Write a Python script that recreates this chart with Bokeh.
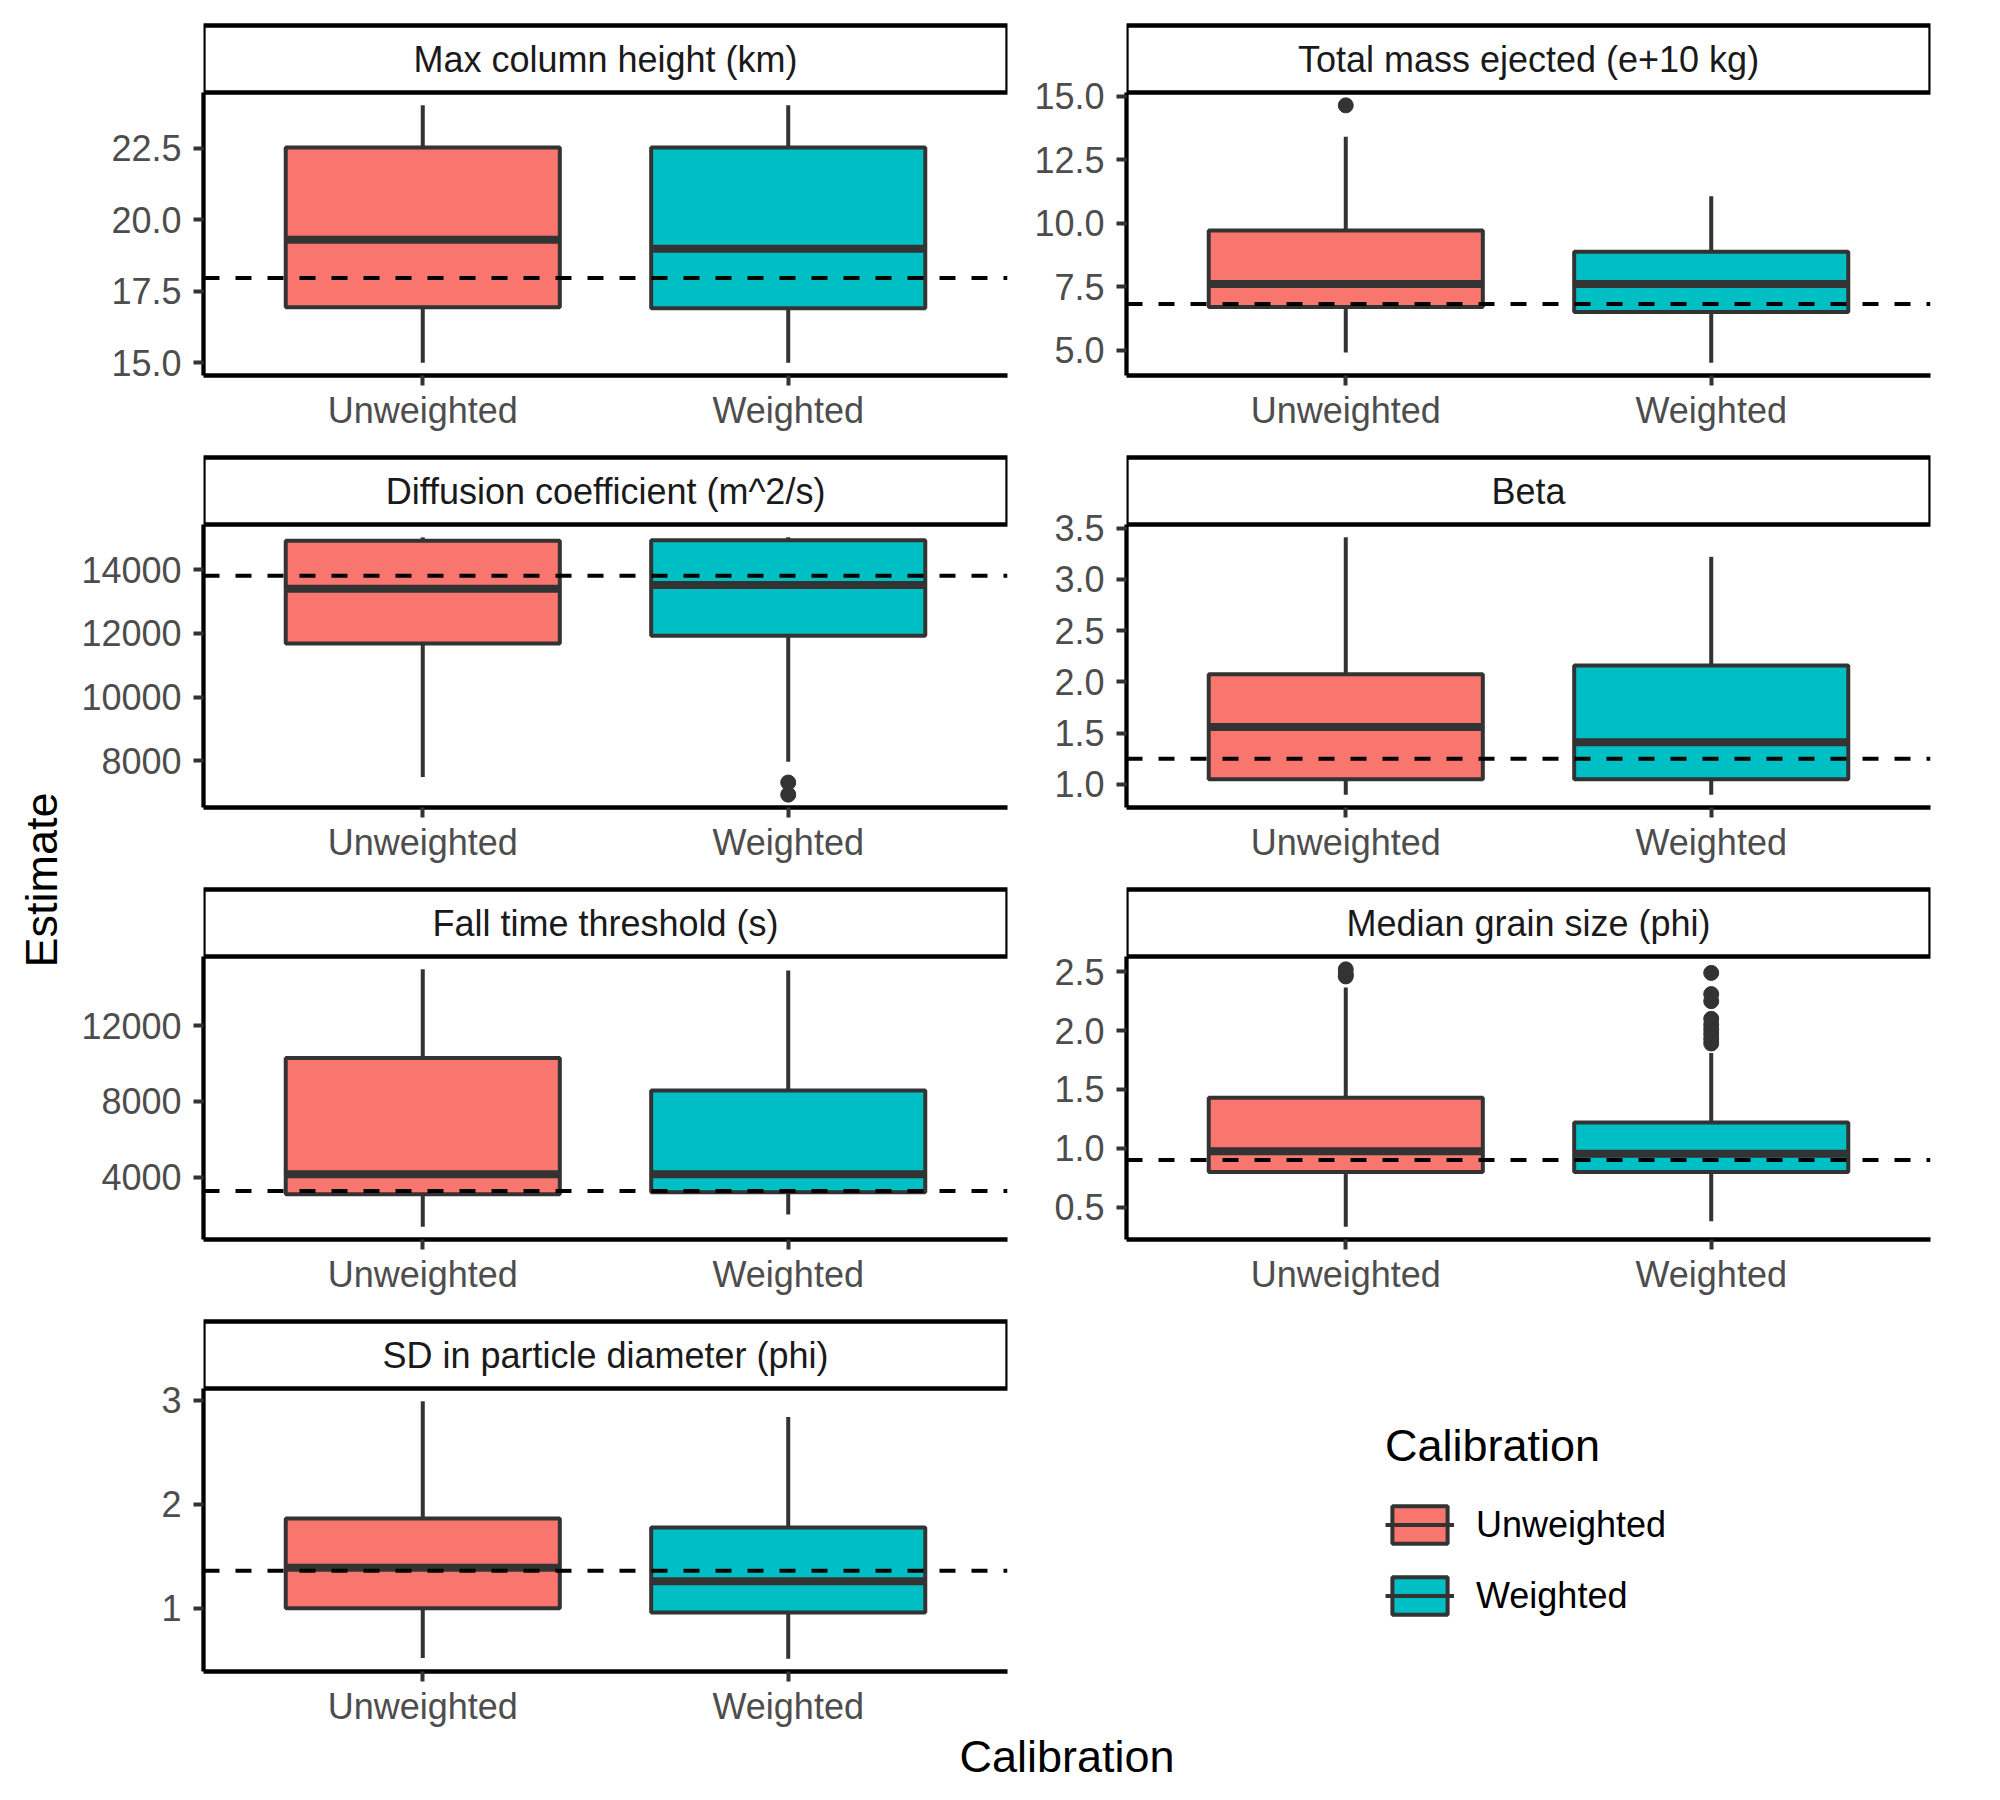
import math
from bokeh.plotting import figure
from bokeh.models import (ColumnDataSource, Range1d, FactorRange, FixedTicker,
                          Span, Legend, LegendItem, BoxAnnotation)
from bokeh.layouts import row, column
from bokeh.transform import dodge
from bokeh.core.properties import value
from bokeh.embed import file_html
from bokeh.resources import INLINE

FONT = "Liberation Sans"

# ---------------- data ----------------
calibrations = ["Unweighted", "Weighted"]
fill_colors = ["#F8766D", "#00BFC4"]

mch_title = "Max column height (km)"
mch_lower = [15.0, 15.0]
mch_q1 = [16.94, 16.90]
mch_median = [19.30, 18.98]
mch_q3 = [22.53, 22.53]
mch_upper = [24.0, 24.0]
mch_outliers = [[], []]
mch_ref = 17.96
mch_ticks = [15.0, 17.5, 20.0, 22.5]
mch_tick_labels = ["15.0", "17.5", "20.0", "22.5"]

tme_title = "Total mass ejected (e+10 kg)"
tme_lower = [4.92, 4.52]
tme_q1 = [6.71, 6.51]
tme_median = [7.62, 7.62]
tme_q3 = [9.72, 8.89]
tme_upper = [13.41, 11.07]
tme_outliers = [[14.65], []]
tme_ref = 6.83
tme_ticks = [5.0, 7.5, 10.0, 12.5, 15.0]
tme_tick_labels = ["5.0", "7.5", "10.0", "12.5", "15.0"]

dc_title = "Diffusion coefficient (m^2/s)"
dc_lower = [7495, 7970]
dc_q1 = [11684, 11926]
dc_median = [13400, 13520]
dc_q3 = [14900, 14920]
dc_upper = [15010, 15010]
dc_outliers = [[], [7321, 6942]]
dc_ref = 13810
dc_ticks = [8000, 10000, 12000, 14000]
dc_tick_labels = ["8000", "10000", "12000", "14000"]

beta_title = "Beta"
beta_lower = [0.90, 0.90]
beta_q1 = [1.05, 1.05]
beta_median = [1.56, 1.41]
beta_q3 = [2.075, 2.16]
beta_upper = [3.41, 3.22]
beta_outliers = [[], []]
beta_ref = 1.25
beta_ticks = [1.0, 1.5, 2.0, 2.5, 3.0, 3.5]
beta_tick_labels = ["1.0", "1.5", "2.0", "2.5", "3.0", "3.5"]

ftt_title = "Fall time threshold (s)"
ftt_lower = [1380, 2016]
ftt_q1 = [3091, 3200]
ftt_median = [4144, 4150]
ftt_q3 = [10289, 8578]
ftt_upper = [14979, 14915]
ftt_outliers = [[], []]
ftt_ref = 3267
ftt_ticks = [4000, 8000, 12000]
ftt_tick_labels = ["4000", "8000", "12000"]

mgs_title = "Median grain size (phi)"
mgs_lower = [0.335, 0.38]
mgs_q1 = [0.80, 0.80]
mgs_median = [0.976, 0.955]
mgs_q3 = [1.43, 1.22]
mgs_upper = [2.365, 1.81]
mgs_outliers = [[2.46, 2.48, 2.52],
                [1.89, 1.93, 1.97, 2.01, 2.05, 2.10, 2.25, 2.31, 2.49]]
mgs_ref = 0.90
mgs_ticks = [0.5, 1.0, 1.5, 2.0, 2.5]
mgs_tick_labels = ["0.5", "1.0", "1.5", "2.0", "2.5"]

sd_title = "SD in particle diameter (phi)"
sd_lower = [0.52, 0.515]
sd_q1 = [1.0, 0.96]
sd_median = [1.39, 1.26]
sd_q3 = [1.863, 1.776]
sd_upper = [2.99, 2.84]
sd_outliers = [[], []]
sd_ref = 1.36
sd_ticks = [1, 2, 3]
sd_tick_labels = ["1", "2", "3"]

x_title = "Calibration"
y_title = "Estimate"
legend_title = "Calibration"

# ---------------- layout constants ----------------
FW = 804            # frame width of a facet
PANEL_H = 283       # data area height
STRIP_H = 67        # strip height
FH = PANEL_H + STRIP_H + 3   # frame height (strip + data area)
LEFT_L, LEFT_R = 129, 19
RIGHT_L, RIGHT_R = 100, 30
YT_L, YT_W = 8, 66
AXIS_COL = "#333333"
TEXT_COL = "#4D4D4D"


def facet_figure(L, R, top, bottom, **kw):
    return figure(frame_width=FW, frame_height=FH, min_border_left=L, min_border_right=R,
                  min_border_top=top, min_border_bottom=bottom, toolbar_location=None,
                  output_backend="svg", outline_line_color=None,
                  background_fill_color="white", border_fill_color="white", **kw)


def make_panel(title, lower, q1, med, q3, upper, outliers, ref, ticks, labels,
               L, R, top, bottom):
    allv = list(lower) + list(upper) + [v for o in outliers for v in o] + [ref]
    lo, hi = min(allv), max(allv)
    pad = (hi - lo) * 0.05
    lo_p, hi_p = lo - pad, hi + pad
    per_px = (hi_p - lo_p) / PANEL_H
    y_end = lo_p + per_px * FH
    strip_top = y_end - 3 * per_px
    xr = FactorRange(factors=calibrations, range_padding=0.1, range_padding_units="absolute")
    p = facet_figure(L, R, top, bottom, x_range=xr, y_range=Range1d(lo_p, y_end))
    p.grid.visible = False

    # facet strip (above the data area, inside the frame)
    p.add_layout(BoxAnnotation(bottom=hi_p, top=strip_top, fill_color="white",
                               fill_alpha=1, line_color="black", line_width=4.3,
                               line_alpha=1))
    ssrc = ColumnDataSource(dict(c=[calibrations[0]], y=[(hi_p + strip_top) / 2], t=[title]))
    p.text(x=dodge("c", 0.5, range=xr), y="y", text="t", source=ssrc,
           text_align="center", text_baseline="middle", text_font=value(FONT),
           text_font_size="36px", text_color="#1A1A1A", level="overlay")

    src = ColumnDataSource(dict(cat=calibrations, lower=lower, q1=q1, med=med, q3=q3,
                                upper=upper, color=fill_colors))
    p.segment(x0="cat", y0="q3", x1="cat", y1="upper", source=src,
              line_color=AXIS_COL, line_width=4)
    p.segment(x0="cat", y0="q1", x1="cat", y1="lower", source=src,
              line_color=AXIS_COL, line_width=4)
    p.vbar(x="cat", top="q3", bottom="q1", width=0.75, source=src,
           fill_color="color", line_color=AXIS_COL, line_width=4)
    p.segment(x0=dodge("cat", -0.375, range=xr), y0="med",
              x1=dodge("cat", 0.375, range=xr), y1="med", source=src,
              line_color=AXIS_COL, line_width=8)
    ox = [c for c, o in zip(calibrations, outliers) for _ in o]
    oy = [v for o in outliers for v in o]
    if oy:
        p.scatter(x=ox, y=oy, size=15, color=AXIS_COL)
    p.add_layout(Span(location=ref, dimension="width", line_color="black",
                      line_width=4, line_dash="16 16"))
    for ax in (p.xaxis[0], p.yaxis[0]):
        ax.axis_line_color = "black"
        ax.axis_line_width = 4.3
        ax.major_tick_line_color = AXIS_COL
        ax.major_tick_line_width = 4
        ax.major_tick_out = 10
        ax.major_tick_in = 0
        ax.minor_tick_out = 0
        ax.minor_tick_in = 0
        ax.major_label_text_font = FONT
        ax.major_label_text_font_size = "36px"
        ax.major_label_text_color = TEXT_COL
    p.yaxis[0].ticker = FixedTicker(ticks=ticks)
    p.yaxis[0].major_label_overrides = {float(t): l for t, l in zip(ticks, labels)}
    p.yaxis[0].major_label_standoff = 12
    p.yaxis[0].bounds = (lo_p, hi_p)
    p.xaxis[0].major_label_standoff = 4
    return p


left_specs = [
    (mch_title, mch_lower, mch_q1, mch_median, mch_q3, mch_upper, mch_outliers, mch_ref, mch_ticks, mch_tick_labels),
    (dc_title, dc_lower, dc_q1, dc_median, dc_q3, dc_upper, dc_outliers, dc_ref, dc_ticks, dc_tick_labels),
    (ftt_title, ftt_lower, ftt_q1, ftt_median, ftt_q3, ftt_upper, ftt_outliers, ftt_ref, ftt_ticks, ftt_tick_labels),
    (sd_title, sd_lower, sd_q1, sd_median, sd_q3, sd_upper, sd_outliers, sd_ref, sd_ticks, sd_tick_labels),
]
right_specs = [
    (tme_title, tme_lower, tme_q1, tme_median, tme_q3, tme_upper, tme_outliers, tme_ref, tme_ticks, tme_tick_labels),
    (beta_title, beta_lower, beta_q1, beta_median, beta_q3, beta_upper, beta_outliers, beta_ref, beta_ticks, beta_tick_labels),
    (mgs_title, mgs_lower, mgs_q1, mgs_median, mgs_q3, mgs_upper, mgs_outliers, mgs_ref, mgs_ticks, mgs_tick_labels),
]

# borders per row: (top, bottom)
row_borders = [(22, 65), (14, 65), (14, 65), (14, 58)]

left_children = [make_panel(*spec, LEFT_L, LEFT_R, *row_borders[i])
                 for i, spec in enumerate(left_specs)]
right_children = [make_panel(*spec, RIGHT_L, RIGHT_R, *row_borders[i])
                  for i, spec in enumerate(right_specs)]

# legend facet slot
lg = facet_figure(RIGHT_L, RIGHT_R, *row_borders[3],
                  x_range=FactorRange(factors=calibrations), y_range=Range1d(0, 4),
                  x_axis_type=None, y_axis_type=None)
lg.grid.visible = False
items = []
for i, (cat, col) in enumerate(zip(calibrations, fill_colors)):
    lsrc = ColumnDataSource(dict(cat=[cat], q1=[sd_q1[i]], q3=[sd_q3[i]], med=[sd_median[i]]))
    r1 = lg.vbar(x="cat", top="q3", bottom="q1", width=0.75, source=lsrc,
                 fill_color=col, line_color=AXIS_COL, line_width=4, visible=False)
    r2 = lg.segment(x0="cat", y0="med", x1="cat", y1="med", source=lsrc,
                    line_color=AXIS_COL, line_width=4, visible=False)
    items.append(LegendItem(label=cat, renderers=[r1, r2]))
legend = Legend(items=items, location=(259, 52), title=legend_title, margin=0,
                padding=10, spacing=24, glyph_width=69, glyph_height=47,
                label_standoff=22, title_standoff=29,
                label_text_font=FONT, label_text_font_size="36px",
                label_text_color="black", title_text_font=FONT,
                title_text_font_size="45px", title_text_font_style="normal",
                title_text_color="black", border_line_color=None,
                background_fill_alpha=0)
lg.add_layout(legend, "center")
right_children.append(lg)

# y title
COL_H = sum(t + FH + b for t, b in row_borders)
YT_TOP = 30
yt = figure(x_range=(0, 1), y_range=(0, 1), frame_width=YT_W, frame_height=COL_H - YT_TOP,
            min_border_left=YT_L, min_border_right=0, min_border_top=YT_TOP,
            min_border_bottom=0, toolbar_location=None, output_backend="svg",
            x_axis_type=None, y_axis_type=None, outline_line_color=None)
yt.text(x=[0.5], y=[0.5], text=[y_title], angle=math.pi / 2, text_align="center",
        text_baseline="middle", text_font=value(FONT), text_font_size="45px",
        text_color="black")

# x title
TOTAL_W = YT_L + YT_W + LEFT_L + FW + LEFT_R + RIGHT_L + FW + RIGHT_R
XT_L = YT_L + YT_W + LEFT_L
XT_FW = (YT_L + YT_W + LEFT_L + FW + LEFT_R + RIGHT_L + FW) - XT_L
xt = figure(x_range=(0, 1), y_range=(0, 1), frame_width=XT_FW, frame_height=56,
            min_border_left=XT_L, min_border_right=TOTAL_W - XT_L - XT_FW,
            min_border_top=0, min_border_bottom=4, toolbar_location=None,
            output_backend="svg", x_axis_type=None, y_axis_type=None,
            outline_line_color=None)
xt.text(x=[0.5], y=[1.0], text=[x_title], text_align="center", text_baseline="top",
        y_offset=1, text_font=value(FONT), text_font_size="45px", text_color="black")

layout = column(row(yt, column(*left_children), column(*right_children)), xt)

with open("out.html", "w") as f:
    f.write(file_html(layout, INLINE))
